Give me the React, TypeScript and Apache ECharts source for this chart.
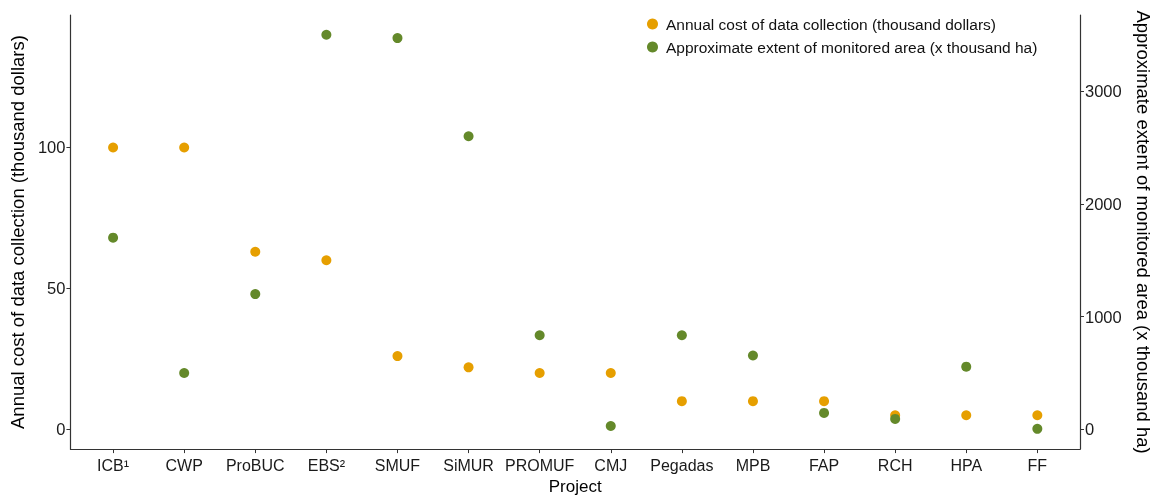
import React, { useEffect, useRef } from "react";
import * as echarts from "echarts";

const projects = ["ICB¹", "CWP", "ProBUC", "EBS²", "SMUF", "SiMUR", "PROMUF", "CMJ", "Pegadas", "MPB", "FAP", "RCH", "HPA", "FF"];
const annualCost = [100, 100, 63, 60, 26, 22, 20, 20, 10, 10, 10, 5, 5, 5];
const monitoredArea = [1700, 500, 1200, 3500, 3470, 2600, 835, 30, 835, 655, 146, 93, 556, 5];
const leftTicks = [0, 50, 100];
const rightTicks = [0, 1000, 2000, 3000];
const AREA_SCALE = 25;

const FONT = "Liberation Sans, Arial, sans-serif";

export default function App() {
  const ref = useRef<HTMLDivElement>(null);
  useEffect(() => {
    document.body.style.margin = "0";
    document.documentElement.style.overflow = "hidden";
    document.body.style.overflow = "hidden";
    const chart = echarts.init(ref.current!, null, { renderer: "svg", width: 1161, height: 500 });
    const idx = projects.map((_, i) => i);
    chart.setOption({
      animation: false,
      textStyle: { fontFamily: FONT },
      grid: { left: 68, right: 69, top: 15, bottom: 45, containLabel: false },
      legend: {
        orient: "vertical",
        left: 642,
        top: 11,
        itemGap: 7,
        itemWidth: 11,
        itemHeight: 11,
        icon: "circle",
        textStyle: { fontFamily: FONT, fontSize: 15.5, color: "#111", padding: [0, 0, 0, 3] },
        data: [
          "Annual cost of data collection (thousand dollars)",
          "Approximate extent of monitored area (x thousand ha)",
        ],
      },
      xAxis: {
        type: "value",
        min: -0.6,
        max: 13.6,
        name: "Project",
        nameLocation: "middle",
        nameGap: 28,
        nameTextStyle: { fontFamily: FONT, fontSize: 17, color: "#000" },
        splitLine: { show: false },
        axisLine: { show: true, onZero: false, lineStyle: { color: "#333", width: 1.2 } },
        axisTick: { show: true, customValues: idx, length: 4, lineStyle: { color: "#333" } },
        axisLabel: {
          customValues: idx,
          formatter: (v: number) => projects[Math.round(v)] ?? "",
          fontFamily: FONT,
          fontSize: 16,
          color: "#1a1a1a",
          margin: 8,
        },
      },
      yAxis: [
        {
          type: "value",
          min: -7,
          max: 147,
          position: "left",
          name: "Annual cost of data collection (thousand dollars)",
          nameLocation: "middle",
          nameGap: 36,
          nameTextStyle: { fontFamily: FONT, fontSize: 18.5, color: "#000" },
          splitLine: { show: false },
          axisLine: { show: true, onZero: false, lineStyle: { color: "#333", width: 1.2 } },
          axisTick: { show: true, customValues: leftTicks, length: 4, lineStyle: { color: "#333" } },
          axisLabel: { customValues: leftTicks, fontFamily: FONT, fontSize: 16.5, color: "#1a1a1a", margin: 5 },
        },
        {
          type: "value",
          min: -7 * AREA_SCALE,
          max: 147 * AREA_SCALE,
          position: "right",
          name: "Approximate extent of monitored area (x thousand ha)",
          nameLocation: "middle",
          nameRotate: -90,
          nameGap: 54,
          nameTextStyle: { fontFamily: FONT, fontSize: 18.5, color: "#000" },
          splitLine: { show: false },
          axisLine: { show: true, onZero: false, lineStyle: { color: "#333", width: 1.2 } },
          axisTick: { show: true, customValues: rightTicks, length: 4, lineStyle: { color: "#333" } },
          axisLabel: {
            customValues: rightTicks,
            formatter: (v: number) => String(v),
            fontFamily: FONT,
            fontSize: 16.5,
            color: "#1a1a1a",
            margin: 5,
          },
        },
      ],
      series: [
        {
          name: "Annual cost of data collection (thousand dollars)",
          type: "scatter",
          yAxisIndex: 0,
          symbolSize: 10,
          itemStyle: { color: "#E69F00", opacity: 1 },
          data: annualCost.map((v, i) => [i, v]),
        },
        {
          name: "Approximate extent of monitored area (x thousand ha)",
          type: "scatter",
          yAxisIndex: 1,
          symbolSize: 10,
          itemStyle: { color: "#64892A", opacity: 1 },
          data: monitoredArea.map((v, i) => [i, v]),
        },
      ],
    });
    return () => chart.dispose();
  }, []);
  return <div ref={ref} style={{ position: "fixed", left: 0, top: 0, width: 1161, height: 500 }} />;
}
